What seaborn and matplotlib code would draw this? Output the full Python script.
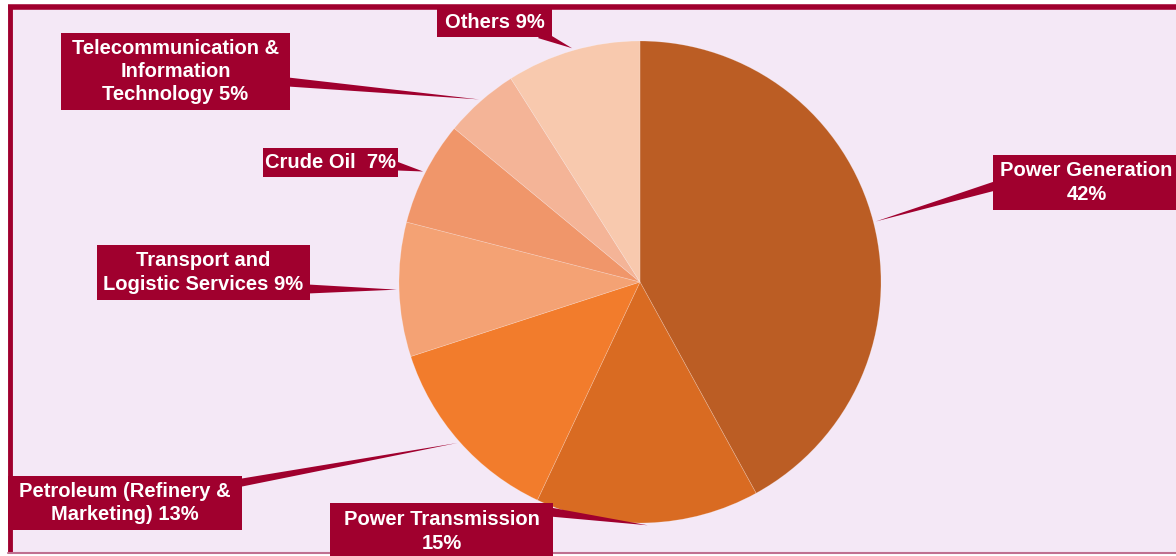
import numpy as np
import matplotlib
matplotlib.use("Agg")
import matplotlib.pyplot as plt
from matplotlib.patches import Rectangle
import seaborn as sns

# Data (clockwise from 12 o'clock)
sectors = ["Power Generation", "Power Transmission", "Petroleum (Refinery & Marketing)",
           "Transport and Logistic Services", "Crude Oil", "Telecommunication & Information Technology",
           "Others"]
shares = [42, 15, 13, 9, 7, 5, 9]
label_texts = ["Power Generation\n42%", "Power Transmission\n15%",
               "Petroleum (Refinery &\nMarketing) 13%", "Transport and\nLogistic Services 9%",
               "Crude Oil  7%", "Telecommunication &\nInformation\nTechnology 5%", "Others 9%"]
slice_colors = ["#bb5d24", "#d96b22", "#f27c2c", "#f4a274", "#f0966a", "#f4b497", "#f8c9ae"]

BG = "#f4e8f6"
RED = "#a0002e"
W, H = 1176, 556

sns.set_theme(style="white")
plt.rcParams["font.family"] = ["Liberation Sans", "DejaVu Sans"]

fig = plt.figure(figsize=(W / 100, H / 100), dpi=100)
fig.patch.set_facecolor("white")
ax = fig.add_axes([0, 0, 1, 1])


def py(y):
    # pixel y (from top) -> data y
    return H - y


cx, cy, r = 640, py(282), 241
wedges, _ = ax.pie(shares, colors=slice_colors, startangle=90, counterclock=False,
                   center=(cx, cy), radius=r, frame=True,
                   wedgeprops=dict(edgecolor=(1, 1, 1, 0.25), linewidth=0.5, zorder=3))
ax.set_xlim(0, W)
ax.set_ylim(0, H)
ax.set_aspect("equal")
ax.axis("off")

# background panel with frame
ax.add_patch(Rectangle((8, py(553)), W, 545, facecolor=BG, edgecolor="none", zorder=0))
ax.plot([8, W], [py(7), py(7)], color=RED, lw=4, zorder=1, solid_capstyle="butt")
ax.plot([10, 10], [py(5), py(553)], color=RED, lw=3.5, zorder=1, solid_capstyle="butt")
ax.plot([8, W], [py(553), py(553)], color="#c07090", lw=1.5, zorder=1)

# label boxes: (x0, y0_top, x1, y1_bottom) in pixels, and pointer base (x, y) in pixels
boxes = [
    (993, 155, 1180, 210),
    (330, 503, 553, 560),
    (8, 476, 242, 530),
    (97, 245, 310, 300),
    (263, 148, 398, 177),
    (61, 33, 290, 110),
    (437, 8, 552, 37),
]
bases = [(995, 186), (550, 512), (212, 488), (308, 289), (396, 166), (288, 82), (540, 34)]

cum = np.cumsum([0] + shares)
for i, (lab, box, base) in enumerate(zip(label_texts, boxes, bases)):
    mid = np.deg2rad(90 - (cum[i] + shares[i] / 2) * 3.6)
    tip = (cx + r * 1.01 * np.cos(mid), cy + r * 1.01 * np.sin(mid))
    bx, by = base[0], py(base[1])
    dx, dy = tip[0] - bx, tip[1] - by
    n = np.hypot(dx, dy)
    nx, ny = -dy / n * 4.5, dx / n * 4.5
    ax.fill([bx + nx, tip[0], bx - nx], [by + ny, tip[1], by - ny], color=RED, zorder=4, lw=0)
    x0, y0, x1, y1 = box
    ax.add_patch(Rectangle((x0, py(y1)), x1 - x0, y1 - y0, facecolor=RED, edgecolor="none", zorder=5))
    yc = (y0 + min(y1, 556)) / 2 + (2 if i == 1 else 0)
    ax.text((x0 + min(x1, W + 4)) / 2, py(yc), lab, color="white", fontsize=14.5,
            fontweight="bold", ha="center", va="center", linespacing=1.3, zorder=6)

fig.savefig("out.png", dpi=100, facecolor=fig.get_facecolor())
